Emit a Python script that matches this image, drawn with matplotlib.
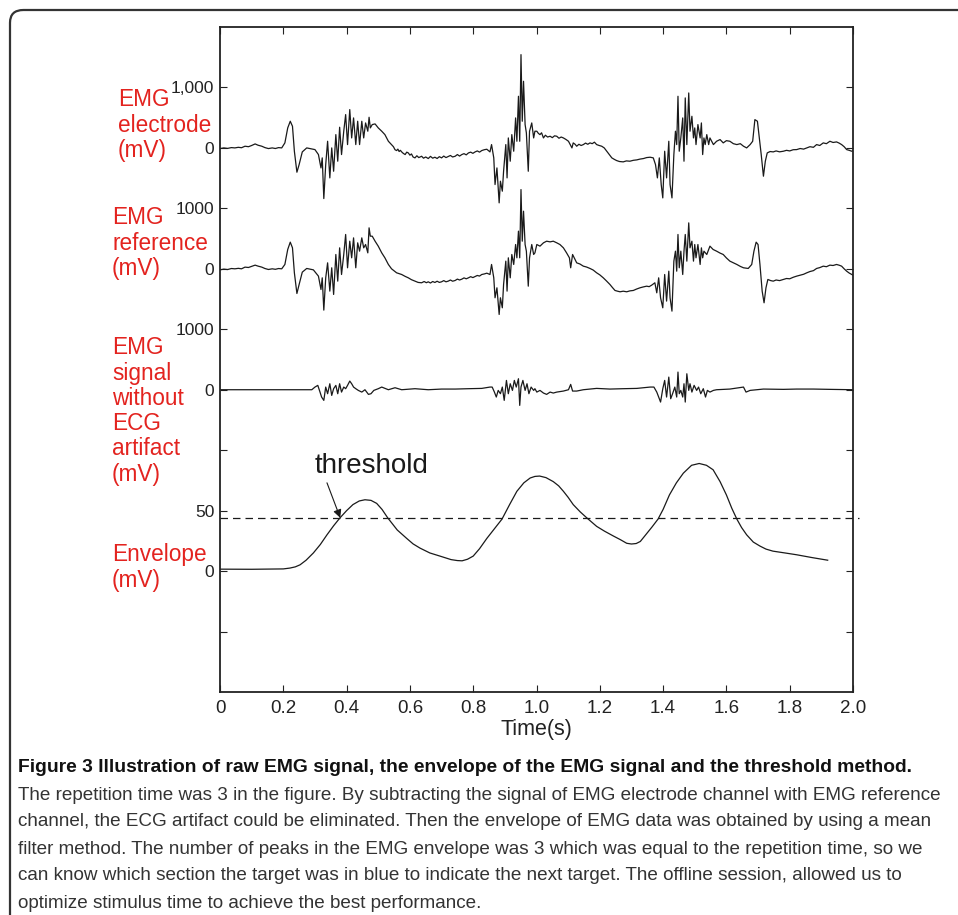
import numpy as np
import matplotlib.pyplot as plt
from matplotlib.patches import FancyBboxPatch

# (time s, mV)
electrode = [
    (0.000, -11), (0.012, 0), (0.024, -8), (0.036, 5), (0.047, 0), (0.058, 10), (0.068, 3),
    (0.079, 28), (0.090, 20), (0.100, 40), (0.111, 66), (0.120, 45), (0.132, 28), (0.142, 5),
    (0.153, -11), (0.165, 0), (0.175, -10), (0.185, 5), (0.195, 0),
    (0.205, 83), (0.214, 331), (0.222, 441), (0.229, 358), (0.235, -55), (0.243, -402), (0.250, -276),
    (0.260, -66), (0.274, 0), (0.300, -28), (0.311, -110), (0.319, -331), (0.323, -165), (0.328, -838),
    (0.334, -276), (0.340, 110), (0.347, -496), (0.353, 0), (0.359, -386), (0.366, 220), (0.372, -220),
    (0.378, 342), (0.384, -110), (0.391, 276), (0.397, 551), (0.403, 55), (0.410, 634), (0.416, 165),
    (0.422, 496), (0.429, 55), (0.435, 441), (0.441, 55), (0.448, 441), (0.454, 165), (0.460, 413),
    (0.467, 276), (0.471, 507), (0.475, 331), (0.481, 386), (0.490, 397), (0.500, 331), (0.511, 276),
    (0.521, 220), (0.532, 110), (0.542, 55), (0.548, 20), (0.553, -30), (0.558, -44), (0.562, -20),
    (0.566, -60), (0.570, -40), (0.574, -66), (0.579, -90), (0.585, -110), (0.590, -70), (0.595, -83),
    (0.600, -120), (0.605, -100), (0.610, -150), (0.616, -165), (0.622, -130), (0.628, -160),
    (0.637, -138), (0.643, -170), (0.650, -150), (0.658, -176), (0.665, -140), (0.672, -170),
    (0.679, -154), (0.686, -175), (0.693, -145), (0.700, -165), (0.707, -135), (0.714, -160),
    (0.721, -143), (0.728, -125), (0.735, -150), (0.743, -138), (0.750, -110), (0.757, -135),
    (0.764, -110), (0.771, -95), (0.778, -115), (0.785, -83), (0.792, -70), (0.799, -90), (0.806, -66),
    (0.813, -50), (0.820, -70), (0.827, -44), (0.835, -30), (0.843, -22), (0.853, -66),
    (0.858, 55), (0.865, -165), (0.869, -606), (0.875, -331), (0.882, -909), (0.886, -551),
    (0.892, -716), (0.896, -386), (0.903, 55), (0.907, -496), (0.911, 165), (0.917, -220), (0.922, 220),
    (0.928, -55), (0.934, 496), (0.938, 110), (0.943, 854), (0.947, 110), (0.951, 1543), (0.955, 441),
    (0.959, 1102), (0.964, 386), (0.968, 248), (0.974, -386), (0.978, 276), (0.985, 413), (0.991, 165),
    (0.995, 276), (1.001, 276), (1.006, 240), (1.011, 220), (1.016, 250), (1.022, 165), (1.028, 210),
    (1.035, 180), (1.043, 193), (1.050, 170), (1.057, 200), (1.064, 193), (1.071, 160), (1.078, 180),
    (1.085, 165), (1.093, 140), (1.101, 110), (1.106, 60), (1.112, 0), (1.116, 83), (1.122, 60),
    (1.127, 28), (1.134, 60), (1.141, 40), (1.148, 55), (1.155, 80), (1.162, 60), (1.169, 83),
    (1.176, 70), (1.183, 95), (1.190, 55), (1.198, 40), (1.206, 28), (1.214, 0), (1.222, -55),
    (1.230, -110), (1.238, -165), (1.246, -190), (1.253, -209), (1.262, -225), (1.274, -231),
    (1.284, -215), (1.295, -220), (1.306, -205), (1.317, -198), (1.327, -185), (1.338, -176),
    (1.348, -160), (1.359, -154), (1.369, -165), (1.376, -276), (1.382, -496),
    (1.388, -165), (1.394, -606), (1.399, -827), (1.405, -55), (1.411, -496), (1.418, 110),
    (1.422, -606), (1.428, -827), (1.434, -110), (1.439, 276), (1.443, 55), (1.447, 854), (1.451, -55),
    (1.456, 165), (1.462, 496), (1.466, -220), (1.470, 827), (1.475, 55), (1.481, 909), (1.485, 276),
    (1.491, 523), (1.496, 165), (1.500, 331), (1.504, 55), (1.510, 386), (1.517, 165), (1.521, 413),
    (1.525, -110), (1.529, 165), (1.533, 55), (1.538, 220), (1.544, 55), (1.548, 165), (1.559, 55),
    (1.569, 110), (1.580, 138), (1.590, 83), (1.600, 120), (1.611, 110), (1.622, 70), (1.633, 55),
    (1.644, 70), (1.654, 28), (1.664, 0), (1.675, 55), (1.683, 110), (1.690, 468), (1.698, 441),
    (1.704, 165), (1.710, -110), (1.717, -468), (1.723, -220), (1.729, -83), (1.738, -60),
    (1.748, -66), (1.757, -50), (1.768, -65), (1.780, -55), (1.790, -40), (1.800, -50), (1.811, -30),
    (1.822, -28), (1.833, -10), (1.844, -20), (1.854, 0), (1.864, 20), (1.875, 10), (1.885, 55),
    (1.895, 40), (1.906, 83), (1.916, 70), (1.927, 110), (1.937, 90), (1.948, 99), (1.956, 80),
    (1.964, 55), (1.972, 20), (1.980, -28), (1.988, -40), (1.996, -55), (2.000, -44),
]

reference = [
    (0.000, -17), (0.012, -5), (0.024, -12), (0.036, 5), (0.047, 0), (0.058, 8), (0.068, 0),
    (0.079, 28), (0.090, 22), (0.100, 40), (0.111, 61), (0.120, 45), (0.132, 28), (0.142, 5),
    (0.153, -11), (0.165, 0), (0.175, -8), (0.185, 5), (0.195, 0),
    (0.205, 72), (0.214, 320), (0.222, 441), (0.229, 347), (0.235, -66), (0.243, -408), (0.250, -259),
    (0.260, -55), (0.274, 6), (0.295, -17), (0.311, -121), (0.319, -342), (0.323, -149), (0.328, -683),
    (0.334, -149), (0.340, 99), (0.347, -369), (0.353, 17), (0.359, -424), (0.366, 237), (0.372, -204),
    (0.378, 347), (0.384, -94), (0.391, 237), (0.397, 568), (0.403, 17), (0.410, 457), (0.416, 182),
    (0.422, 512), (0.429, 17), (0.435, 430), (0.441, 292), (0.448, 512), (0.454, 347), (0.460, 402),
    (0.467, 264), (0.471, 678), (0.475, 540), (0.481, 540), (0.490, 457), (0.500, 375), (0.511, 264),
    (0.521, 182), (0.532, 72), (0.542, 0), (0.558, -66), (0.574, -94), (0.585, -125), (0.595, -149),
    (0.605, -180), (0.616, -204), (0.626, -225), (0.637, -231), (0.645, -210), (0.652, -230),
    (0.658, -215), (0.665, -235), (0.672, -210), (0.679, -226), (0.686, -205), (0.693, -225),
    (0.700, -215), (0.707, -195), (0.714, -215), (0.721, -204), (0.728, -185), (0.735, -205),
    (0.743, -193), (0.750, -170), (0.757, -185), (0.764, -171), (0.771, -150), (0.778, -165),
    (0.785, -149), (0.792, -130), (0.799, -145), (0.806, -127), (0.813, -110), (0.820, -120),
    (0.827, -94), (0.835, -85), (0.843, -72), (0.853, -94), (0.858, 72),
    (0.865, -149), (0.869, -479), (0.875, -314), (0.882, -755), (0.886, -479), (0.892, -645),
    (0.896, -259), (0.903, 127), (0.907, -369), (0.911, 182), (0.917, -149), (0.922, 237), (0.928, 72),
    (0.934, 402), (0.938, 182), (0.943, 623), (0.947, 182), (0.951, 1311), (0.955, 457), (0.959, 953),
    (0.964, 402), (0.968, 292), (0.974, -287), (0.978, 182), (0.985, 402), (0.991, 237), (0.995, 264),
    (1.001, 402), (1.011, 375), (1.022, 430), (1.032, 457), (1.043, 446), (1.053, 457), (1.064, 430),
    (1.074, 402), (1.085, 347), (1.095, 264), (1.104, 182), (1.108, 17), (1.114, 237), (1.127, 99),
    (1.137, 80), (1.148, 44), (1.158, 30), (1.169, 6), (1.179, -20), (1.190, -66), (1.200, -100),
    (1.211, -149), (1.221, -200), (1.232, -259), (1.240, -310), (1.248, -358), (1.256, -370),
    (1.264, -380), (1.274, -370), (1.285, -380), (1.295, -365), (1.306, -358), (1.316, -335),
    (1.327, -314), (1.337, -300), (1.348, -287), (1.356, -295), (1.364, -270), (1.374, -231),
    (1.380, -397), (1.386, -149), (1.392, -479), (1.399, -645), (1.405, -94), (1.411, -534),
    (1.418, -39), (1.422, -479), (1.428, -700), (1.434, 127), (1.439, 292), (1.443, -39), (1.447, 568),
    (1.451, 17), (1.456, 292), (1.462, -94), (1.466, 292), (1.470, 568), (1.475, 127), (1.481, 760),
    (1.485, 347), (1.491, 457), (1.496, 127), (1.500, 402), (1.504, 182), (1.510, 402), (1.517, 72),
    (1.521, 347), (1.525, 182), (1.529, 292), (1.538, 237), (1.548, 375), (1.558, 320), (1.569, 292),
    (1.580, 260), (1.590, 237), (1.600, 180), (1.611, 127), (1.622, 100), (1.633, 72), (1.644, 40),
    (1.654, 17), (1.669, 6), (1.680, 72), (1.687, 292), (1.694, 441),
    (1.700, 402), (1.706, 72), (1.713, -369), (1.719, -562), (1.725, -314), (1.731, -176),
    (1.740, -195), (1.748, -204), (1.757, -185), (1.768, -195), (1.780, -176), (1.790, -160),
    (1.800, -165), (1.811, -140), (1.822, -121), (1.833, -105), (1.844, -90), (1.854, -66),
    (1.864, -45), (1.875, -30), (1.885, 6), (1.895, 20), (1.906, 44), (1.916, 35), (1.927, 61),
    (1.937, 55), (1.948, 72), (1.956, 60), (1.964, 44), (1.972, 0), (1.980, -39), (1.988, -70),
    (1.996, -94), (2.000, -105),
]

cleaned = [
    (0.000, 0), (0.195, 0), (0.290, 0), (0.300, 44), (0.309, 72), (0.316, -39), (0.321, -121),
    (0.328, -176), (0.334, 44), (0.340, -66), (0.347, 99), (0.353, -94), (0.359, 17), (0.366, 72),
    (0.372, -66), (0.378, 99), (0.384, -39), (0.391, 44), (0.397, 17), (0.403, 72), (0.410, 143),
    (0.416, 99), (0.422, 44), (0.429, 17), (0.437, -11), (0.448, -39), (0.458, 0), (0.469, -77),
    (0.477, -66), (0.486, -11), (0.500, 17), (0.511, 44), (0.532, 0), (0.553, 33), (0.574, 0),
    (0.616, 17), (0.658, 0), (0.700, 11), (0.743, 11), (0.785, 17), (0.827, 22), (0.853, 44),
    (0.860, 44), (0.867, -39), (0.873, -121), (0.879, -11), (0.886, -66), (0.892, 44), (0.898, -176),
    (0.905, 154), (0.911, -66), (0.917, 99), (0.924, -11), (0.930, 154), (0.936, 44), (0.943, 182),
    (0.947, -259), (0.951, 44), (0.957, 154), (0.964, -11), (0.970, 99), (0.976, -66), (0.983, 44),
    (0.991, -11), (0.995, 17), (1.001, -39), (1.011, -11), (1.022, -55), (1.032, -77), (1.043, -39),
    (1.053, -55), (1.064, -39), (1.085, -22), (1.101, 0), (1.108, 88), (1.114, -22), (1.127, -22),
    (1.148, 0), (1.190, 22), (1.232, 11), (1.274, 17), (1.317, 22), (1.359, 44), (1.371, 44),
    (1.380, -39), (1.386, -121), (1.392, -204), (1.399, 17), (1.405, 154), (1.411, -121), (1.418, 209),
    (1.424, -149), (1.430, -66), (1.437, 44), (1.443, -121), (1.447, 292), (1.451, -66), (1.456, -11),
    (1.462, -121), (1.466, 99), (1.470, -204), (1.475, 264), (1.481, -11), (1.485, 99), (1.491, -39),
    (1.498, 72), (1.506, -11), (1.512, 44), (1.519, -66), (1.527, 17), (1.534, -121), (1.540, -11),
    (1.548, -39), (1.559, -11), (1.569, 0), (1.611, 11), (1.654, 44), (1.662, -39), (1.675, -11),
    (1.717, 11), (1.780, 6), (1.822, 11), (1.875, 11), (1.927, 6), (2.000, 0),
]

envelope = [
    (0.000, 1.6), (0.100, 1.5), (0.200, 1.8), (0.221, 2.5), (0.238, 3.5), (0.253, 5.2), (0.272, 9),
    (0.295, 15), (0.317, 22), (0.338, 30), (0.359, 37.5), (0.379, 44), (0.400, 50), (0.420, 55),
    (0.440, 58), (0.458, 59), (0.477, 58.5), (0.495, 56), (0.512, 51), (0.530, 44), (0.560, 34),
    (0.590, 27), (0.610, 22.5), (0.632, 19), (0.663, 15), (0.695, 12.4), (0.730, 9.5), (0.750, 8.7),
    (0.765, 8.5), (0.782, 9.8), (0.800, 12.4), (0.820, 18.5), (0.843, 27), (0.867, 35), (0.891, 43),
    (0.915, 55), (0.938, 66), (0.960, 73), (0.980, 77), (0.995, 78.3), (1.010, 78.6), (1.030, 77.3),
    (1.053, 74), (1.070, 70.5), (1.085, 66), (1.100, 61), (1.116, 55), (1.138, 49), (1.159, 44),
    (1.190, 37), (1.215, 33), (1.243, 29), (1.265, 26), (1.285, 23), (1.300, 22.4), (1.315, 22.8),
    (1.328, 24.5), (1.345, 30), (1.365, 36.5), (1.384, 43), (1.400, 51), (1.420, 63), (1.442, 73),
    (1.464, 81), (1.490, 87.5), (1.514, 89), (1.537, 87.5), (1.558, 83.8), (1.580, 74), (1.600, 63),
    (1.617, 52), (1.633, 43), (1.648, 36), (1.664, 30), (1.685, 24), (1.706, 20.7), (1.725, 18.2),
    (1.747, 16.5), (1.785, 15), (1.822, 13.5), (1.870, 11.2), (1.920, 9),
]
threshold = 44

ytick_pos = [1, 2, 3, 4, 5, 6, 7, 8, 9, 10]
ytick_labels = ["", "0", "50", "", "0", "1000", "0", "1000", "0", "1,000"]
xtick_pos = [0, 0.2, 0.4, 0.6, 0.8, 1.0, 1.2, 1.4, 1.6, 1.8, 2.0]
xtick_labels = ["0", "0.2", "0.4", "0.6", "0.8", "1.0", "1.2", "1.4", "1.6", "1.8", "2.0"]

plt.rcParams["font.family"] = ["Liberation Sans", "DejaVu Sans"]

W, H = 958, 915
fig = plt.figure(figsize=(W / 100, H / 100), dpi=100)

# frame around the figure panel (runs off the right and bottom edges)
fig.patches.append(FancyBboxPatch((10 / W, -0.05), 1.2, 1.05 - 10 / H,
                                  boxstyle="round,pad=0,rounding_size=0.014",
                                  transform=fig.transFigure, fill=False,
                                  ec="#333333", lw=1.6))

ax = fig.add_axes([220 / W, 1 - 692 / H, 633 / W, 665 / H])

ink = "#1a1a1a"
for data, base in [(electrode, 9), (reference, 7), (cleaned, 5)]:
    arr = np.array(data, dtype=float)
    ax.plot(arr[:, 0], base + arr[:, 1] / 1000.0, color=ink, lw=0.9)

env = np.array(envelope, dtype=float)
ax.plot(env[:, 0], 2 + env[:, 1] / 50.0, color=ink, lw=0.9)
ax.plot([0, 2.02], [2 + threshold / 50.0] * 2, color=ink, lw=0.9,
        dashes=(6, 4), clip_on=False)

ax.annotate("", xy=(0.38, 2 + threshold / 50.0), xytext=(0.338, 2 + 73 / 50.0),
            arrowprops=dict(arrowstyle="-|>", color=ink, lw=0.8,
                            mutation_scale=12, shrinkA=0, shrinkB=0))
ax.text(0.48, 2 + 87 / 50.0, "threshold", fontsize=20, ha="center", va="center",
        color=ink)

ax.set_xlim(0, 2.0)
ax.set_ylim(0, 11)
ax.set_xticks(xtick_pos)
ax.set_xticklabels(xtick_labels)
ax.set_yticks(ytick_pos)
ax.set_yticklabels(ytick_labels)
ax.tick_params(direction="in", length=5, width=0.8, top=True, right=True,
               labelsize=12.5, colors="#222222", pad=4)
ax.tick_params(axis="x", labelsize=13.5, pad=6)
for s in ax.spines.values():
    s.set_linewidth(1.3)
    s.set_color("#222222")
ax.set_xlabel("Time(s)", fontsize=15.5, labelpad=1, color="#222222")

red = "#e3231f"
labels = [
    (["EMG", "electrode", "(mV)"], 118, 100),
    (["EMG", "reference", "(mV)"], 112, 218),
    (["EMG", "signal", "without", "ECG", "artifact", "(mV)"], 112, 348),
    (["Envelope", "(mV)"], 112, 555),
]
for lines, px, py in labels:
    for i, line in enumerate(lines):
        fig.text(px / W, 1 - (py + 25.2 * i) / H, line, color=red, fontsize=16.3,
                 ha="left", va="center")

cap_font = ["Liberation Sans Narrow", "Liberation Sans", "DejaVu Sans"]
fig.text(18 / W, 1 - 767 / H,
         "Figure 3 Illustration of raw EMG signal, the envelope of the EMG signal and the threshold method.",
         fontsize=13.9, fontweight="bold", family=cap_font, ha="left", va="center", color="#111111")
caption = [
    "The repetition time was 3 in the figure. By subtracting the signal of EMG electrode channel with EMG reference",
    "channel, the ECG artifact could be eliminated. Then the envelope of EMG data was obtained by using a mean",
    "filter method. The number of peaks in the EMG envelope was 3 which was equal to the repetition time, so we",
    "can know which section the target was in blue to indicate the next target. The offline session, allowed us to",
    "optimize stimulus time to achieve the best performance.",
]
for i, line in enumerate(caption):
    fig.text(18 / W, 1 - (795 + 27 * i) / H, line, fontsize=13.6, family=cap_font,
             ha="left", va="center", color="#333333")

fig.savefig("out.png", dpi=100)
